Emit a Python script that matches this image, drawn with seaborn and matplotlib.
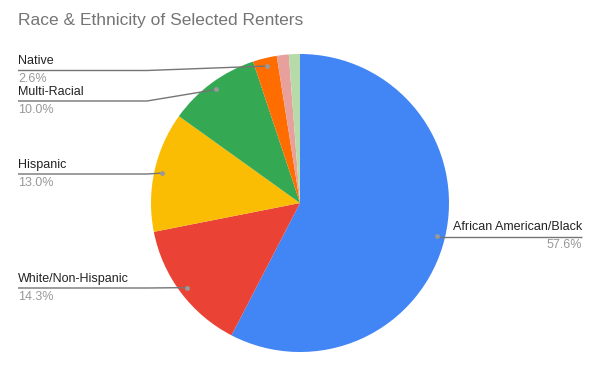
import numpy as np
import seaborn as sns
import matplotlib.pyplot as plt

# dados do gráfico
groups = ['African American/Black', 'White/Non-Hispanic', 'Hispanic',
          'Multi-Racial', 'Native', 'Other', 'Asian']
shares = [57.6, 14.3, 13.0, 10.0, 2.6, 1.3, 1.2]
colors = ['#4285F4', '#EA4335', '#FBBC04', '#34A853', '#FF6D01',
          '#E8A09C', '#B7DBA8']

sns.set_style('white')
plt.rcParams['font.family'] = ['Liberation Sans', 'DejaVu Sans']

fig = plt.figure(figsize=(6, 3.71), dpi=100)
ax = fig.add_axes([0, 0, 1, 1])

cx, cy, r = 300, 371 - 203, 149
wedges, _ = ax.pie(shares, colors=colors, startangle=90, counterclock=False,
                   center=(cx, cy), radius=r, frame=True,
                   wedgeprops=dict(linewidth=0))
ax.set_xlim(0, 600)
ax.set_ylim(0, 371)
ax.set_aspect('equal')
ax.axis('off')

fig.text(18 / 600, 1 - 20 / 371, 'Race & Ethnicity of Selected Renters',
         fontsize=12.5, color='#757575', va='center', ha='left')

# posição da linha dos rótulos (y em pixels a partir do topo), lado
label_layout = {
    0: (236.5, 'right'),
    1: (288, 'left'),
    2: (174, 'left'),
    3: (101, 'left'),
    4: (70.5, 'left'),
}

for i, (ly, side) in label_layout.items():
    w = wedges[i]
    mid = np.deg2rad((w.theta1 + w.theta2) / 2)
    dx = cx + 0.946 * r * np.cos(mid)
    dy = cy + 0.946 * r * np.sin(mid)
    y = 371 - ly
    if side == 'left':
        xs = [18, min(147, dx), dx]
        ys = [y, y, dy]
        tx, ha = 18, 'left'
    else:
        xs = [dx, dx, 582]
        ys = [dy, y, y]
        tx, ha = 582, 'right'
    ax.plot(xs, ys, color='#757575', lw=1, solid_capstyle='butt')
    ax.plot(dx, dy, 'o', color='#999999', ms=3.5, mec='none')
    ax.text(tx, y + 3, groups[i], fontsize=9, color='#222222',
            ha=ha, va='bottom')
    ax.text(tx, y - 3, f'{shares[i]:.1f}%', fontsize=9, color='#999999',
            ha=ha, va='top')

fig.savefig('out.png', dpi=100)
